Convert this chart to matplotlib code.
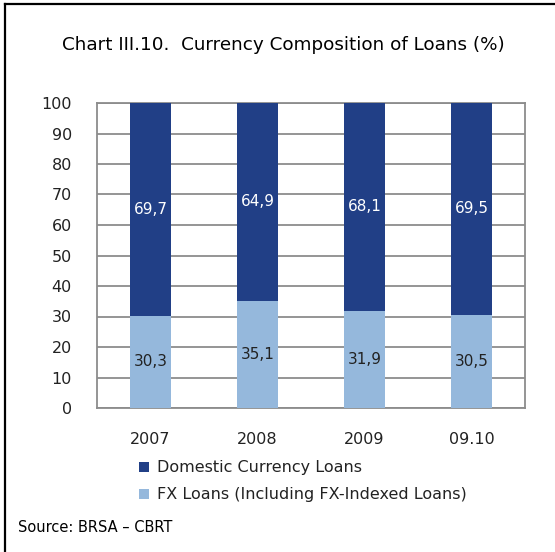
import matplotlib
matplotlib.use("Agg")
import matplotlib.pyplot as plt
from matplotlib.lines import Line2D
from matplotlib.patches import Patch
import numpy as np

categories = ["2007", "2008", "2009", "09.10"]
fx_loans = [30.3, 35.1, 31.9, 30.5]
domestic_loans = [69.7, 64.9, 68.1, 69.5]
series_labels = ["Domestic Currency Loans", "FX Loans (Including FX-Indexed Loans)"]
title = "Chart III.10.  Currency Composition of Loans (%)"
source = "Source: BRSA – CBRT"

dark = "#213F86"
light = "#95B8DC"
grid = "#8C8C8C"
textc = "#222222"

plt.rcParams["font.family"] = ["DejaVu Sans"]

W, H = 555, 552
fig = plt.figure(figsize=(W / 100, H / 100), dpi=100)
ax = fig.add_axes([97 / W, 1 - 408 / H, 428 / W, 305 / H])

x = np.arange(len(categories))
bw = 0.39
ax.bar(x, fx_loans, width=bw, color=light, zorder=3)
ax.bar(x, domestic_loans, width=bw, bottom=fx_loans, color=dark, zorder=3)

for xi, f, d in zip(x, fx_loans, domestic_loans):
    ax.text(xi, f / 2, f"{f:.1f}".replace(".", ","), ha="center", va="center",
            fontsize=11, color=textc, zorder=4)
    ax.text(xi, f + d / 2, f"{d:.1f}".replace(".", ","), ha="center", va="center",
            fontsize=11, color="white", zorder=4)

ax.set_xlim(-0.5, len(categories) - 0.5)
ax.set_ylim(0, 100)
ax.set_yticks(np.arange(0, 101, 10))
ax.set_xticks(x)
ax.set_xticklabels(categories)
ax.tick_params(axis="both", length=0, labelsize=11.5, labelcolor=textc)
ax.tick_params(axis="y", pad=18)
ax.tick_params(axis="x", pad=17)
ax.yaxis.grid(True, color=grid, linewidth=1.3, zorder=0)
for s in ax.spines.values():
    s.set_color(grid)
    s.set_linewidth(1.3)

handles = [Patch(facecolor=dark, edgecolor="none"), Patch(facecolor=light, edgecolor="none")]
fig.legend(handles, series_labels, loc="upper left",
           bbox_to_anchor=(125 / W, 1 - 446 / H), frameon=False,
           handlelength=0.6, handleheight=0.6, handletextpad=0.5,
           labelspacing=0.75, fontsize=11.5, labelcolor=textc)

fig.text(283 / W, 1 - 45 / H, title, ha="center", va="center", fontsize=13.2, color="black")
fig.text(18 / W, 1 - 528 / H, source, ha="left", va="center", fontsize=10.5, color="black")

# outer frame edges
fig.add_artist(Line2D([5 / W, 5 / W], [0, 1 - 4 / H], color="black", linewidth=1.6,
                      transform=fig.transFigure))
fig.add_artist(Line2D([5 / W, 1], [1 - 4 / H, 1 - 4 / H], color="black", linewidth=1.6,
                      transform=fig.transFigure))

fig.savefig("out.png", dpi=100)
